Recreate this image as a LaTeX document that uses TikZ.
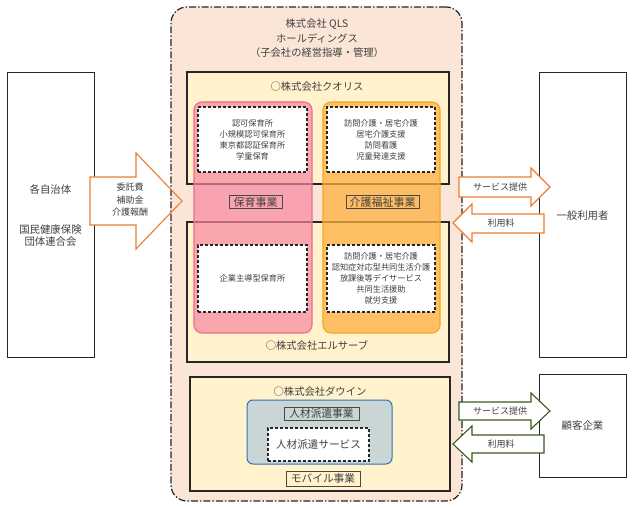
\documentclass[tikz,border=0pt]{standalone}
\usepackage{fontspec}
\setmainfont{Noto Sans CJK JP}
\definecolor{peach}{HTML}{FBE5D6}
\definecolor{lyellow}{HTML}{FFF2CC}
\definecolor{pinkb}{HTML}{F06A93}
\definecolor{pinkf}{HTML}{F7879F}
\definecolor{orgb}{HTML}{F5A623}
\definecolor{orgf}{HTML}{FFB040}
\definecolor{arrorg}{HTML}{ED7D31}
\definecolor{arrgrn}{HTML}{3A5A1E}
\definecolor{txt}{HTML}{404040}
\definecolor{bluef}{HTML}{CAD6D6}
\definecolor{blueb}{HTML}{2E75B6}
\definecolor{lblb}{HTML}{4A4A3A}
\tikzset{
  outerbox/.style={draw=black!85, line width=1.2pt, fill=peach, rounded corners=16pt,
    dash pattern=on 7pt off 2pt on 1.5pt off 2pt},
  cobox/.style={draw=black!85, line width=1.1pt, fill=lyellow},
  colpink/.style={draw=pinkb, line width=1.1pt, fill=pinkf, fill opacity=0.7, rounded corners=8pt},
  colorg/.style={draw=orgb, line width=1.1pt, fill=orgf, fill opacity=0.75, rounded corners=8pt},
  dbox/.style={draw=black!85, line width=1.1pt, dashed, dash pattern=on 3pt off 2pt, fill=white, align=center,
    font=\fontsize{8.2}{11}\selectfont},
  lbl/.style={draw=lblb, line width=0.8pt, inner sep=0pt, font=\fontsize{11}{13}\selectfont},
  plain/.style={draw=black!85, line width=1pt, fill=white, align=center, font=\fontsize{10.4}{12}\selectfont},
  ttl/.style={align=center, font=\fontsize{10.3}{14.5}\selectfont},
  arrtxt/.style={align=center, font=\fontsize{9}{12.5}\selectfont},
  oarrow/.style={draw=arrorg, line width=1.1pt},
  garrow/.style={draw=arrgrn, line width=1.1pt},
}
\begin{document}
\begin{tikzpicture}[x=1pt,y=-1pt, text=txt]
\useasboundingbox (0,0) rectangle (633,508);

% left box
\node[plain, minimum width=87pt, minimum height=285pt] (muni) at (50.5,215.5)
  {各自治体\\[28pt]国民健康保険\\団体連合会};

% left arrow (fill under the holding box)
\path[fill=white] (90,177) -- (136,177) -- (136,153) -- (182,201) -- (136,249) -- (136,225) -- (90,225) -- cycle;

% holding company
\node[outerbox, minimum width=291pt, minimum height=494pt] (qls) at (316.5,254) {};
\node[ttl] (qlst) at (317,38.5) {株式会社 QLS\\ホールディングス\\（子会社の経営指導・管理）};

% left arrow outline
\draw[oarrow] (90,177) -- (136,177) -- (136,153) -- (182,201) -- (136,249) -- (136,225) -- (90,225) -- cycle;
\node[arrtxt] (kouhi) at (130,200) {委託費\\補助金\\介護報酬};

% subsidiaries
\node[cobox, minimum width=262pt, minimum height=112pt] (kuo) at (318,128) {};
\node[ttl] (kuot) at (317,87) {○株式会社クオリス};
\node[cobox, minimum width=262pt, minimum height=140pt] (els) at (318,292) {};
\node[ttl] (elst) at (317,346) {○株式会社エルサーブ};

% business columns
\node[colpink, minimum width=118pt, minimum height=231pt] (hoiku) at (253,217.5) {};
\node[colorg, minimum width=117pt, minimum height=231pt] (kaigo) at (381.5,217.5) {};

\node[dbox, minimum width=109pt, minimum height=65pt] (hk1) at (252.5,139.5)
  {認可保育所\\小規模認可保育所\\東京都認証保育所\\学童保育};
\node[dbox, minimum width=108pt, minimum height=65pt] (kg1) at (381,139.5)
  {訪問介護・居宅介護\\居宅介護支援\\訪問看護\\児童発達支援};
\node[dbox, minimum width=109pt, minimum height=67pt] (hk2) at (252.5,278.5)
  {企業主導型保育所};
\node[dbox, minimum width=108pt, minimum height=67pt] (kg2) at (381,278.5)
  {訪問介護・居宅介護\\認知症対応型共同生活介護\\放課後等デイサービス\\共同生活援助\\就労支援};

\node[lbl, minimum width=53pt, minimum height=12.5pt] (hkl) at (255.5,202) {保育事業};
\node[lbl, minimum width=73pt, minimum height=12.5pt] (kgl) at (382.5,202) {介護福祉事業};

% Dawin
\node[cobox, minimum width=260pt, minimum height=114pt] (daw) at (320,434) {};
\node[ttl] (dawt) at (320,392) {○株式会社ダウイン};
\node[draw=blueb, line width=1pt, fill=bluef, rounded corners=6pt, minimum width=145pt, minimum height=64pt] (jin) at (319.5,432) {};
\node[lbl, fill=bluef, minimum width=75pt, minimum height=13pt, font=\fontsize{10.7}{12}\selectfont] (jinl) at (321.5,413.5) {人材派遣事業};
\node[dbox, minimum width=101pt, minimum height=33pt, font=\fontsize{10.6}{12}\selectfont] (jins) at (318.5,444.5) {人材派遣サービス};
\node[lbl, fill=lyellow, minimum width=74pt, minimum height=15pt, font=\fontsize{10.7}{12}\selectfont] (mob) at (323,478.5) {モバイル事業};

% right boxes
\node[plain, minimum width=87pt, minimum height=285pt] (user) at (582.5,215.5) {一般利用者};
\node[plain, minimum width=87pt, minimum height=102pt] (kokyaku) at (582.5,426) {顧客企業};

% right arrows (orange)
\draw[oarrow, fill=white] (459,177) -- (531,177) -- (531,168) -- (550,187) -- (531,206) -- (531,197) -- (459,197) -- cycle;
\node[arrtxt] (svc1) at (500,187) {サービス提供};
\draw[oarrow, fill=white] (544,214) -- (472,214) -- (472,204) -- (453,223) -- (472,242) -- (472,233) -- (544,233) -- cycle;
\node[arrtxt] (fee1) at (501,223) {利用料};

% right arrows (green)
\draw[garrow, fill=white] (459,402) -- (531,402) -- (531,393) -- (550,411) -- (531,429) -- (531,420) -- (459,420) -- cycle;
\node[arrtxt] (svc2) at (500,411) {サービス提供};
\draw[garrow, fill=white] (544,435) -- (472,435) -- (472,426) -- (453,444) -- (472,462) -- (472,453) -- (544,453) -- cycle;
\node[arrtxt] (fee2) at (501,444) {利用料};
\end{tikzpicture}
\end{document}
